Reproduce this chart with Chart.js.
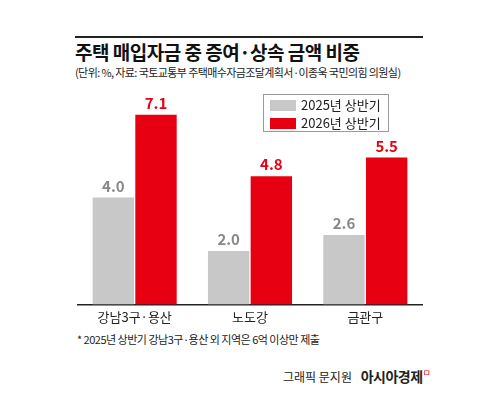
<!DOCTYPE html>
<html><head><meta charset="utf-8">
<script src="https://cdn.jsdelivr.net/npm/chart.js@4"></script>
<style>
body{margin:0;width:500px;height:400px;background:#fff;font-family:"Noto Sans CJK KR",sans-serif;position:relative;overflow:hidden}
.rule{position:absolute;left:75px;top:36px;width:348px;height:2px;background:#222}
.t{position:absolute;left:75px;top:38px;font-size:19px;font-weight:bold;color:#111;letter-spacing:-0.5px}
.s{position:absolute;left:75px;top:64px;font-size:11px;color:#222;letter-spacing:-0.6px}
.lg{position:absolute;left:263px;top:94px;width:124px;height:36px;border:1px solid #999;font-size:13px;color:#222}
.lg div{height:16px;line-height:16px;margin:2px 0 0 6px}
.lg span{display:inline-block;width:26px;height:11px;margin-right:5px;vertical-align:-1px}
.n{position:absolute;left:77px;top:331px;font-size:11px;color:#222;letter-spacing:-0.5px}
.c{position:absolute;left:283px;top:366px;font-size:12px;color:#222}
.c b{font-size:14px;margin-left:6px;letter-spacing:-0.5px}
#w{position:absolute;left:77px;top:80px;width:346px;height:250px}
</style></head><body>
<div class="rule"></div>
<div class="t">주택 매입자금 중 증여·상속 금액 비중</div>
<div class="s">(단위: %, 자료: 국토교통부 주택매수자금조달계획서·이종욱 국민의힘 의원실)</div>
<div id="w"><canvas id="c"></canvas></div>
<div class="lg"><div><span style="background:#c8c8c8"></span>2025년 상반기</div><div><span style="background:#e60012"></span>2026년 상반기</div></div>
<div class="n">* 2025년 상반기 강남3구·용산 외 지역은 6억 이상만 제출</div>
<div class="c">그래픽 문지원 <b>아시아경제</b><span style="color:#e60012;font-size:9px;vertical-align:top">ㅁ</span></div>
<script>
const categories=["강남3구·용산","노도강","금관구"];
const s2025=[4.0,2.0,2.6];
const s2026=[7.1,4.8,5.5];
const labels=["2025년 상반기","2026년 상반기"];
const valPlugin={id:'v',afterDatasetsDraw(ch){const x=ch.ctx;x.save();x.textAlign='center';x.textBaseline='bottom';
ch.data.datasets.forEach((d,i)=>{ch.getDatasetMeta(i).data.forEach((b,j)=>{x.fillStyle=i?'#e60012':'#888';x.font='bold 15px "Noto Sans CJK KR"';x.fillText(d.data[j].toFixed(1),b.x,b.y-4);});});x.restore();}};
new Chart(document.getElementById('c'),{type:'bar',
data:{labels:categories,datasets:[{label:labels[0],data:s2025,backgroundColor:'#c8c8c8'},{label:labels[1],data:s2026,backgroundColor:'#e60012'}]},
options:{responsive:true,maintainAspectRatio:false,animation:false,layout:{padding:0},
plugins:{legend:{display:false},tooltip:{enabled:false}},
datasets:{bar:{categoryPercentage:0.74,barPercentage:0.97}},
scales:{y:{display:false,min:0,max:8.4},x:{grid:{display:false,drawTicks:false},border:{color:'#222',width:1.5},ticks:{color:'#222',font:{size:13,family:'"Noto Sans CJK KR"'},padding:5}}}},
plugins:[valPlugin]});
</script></body></html>
